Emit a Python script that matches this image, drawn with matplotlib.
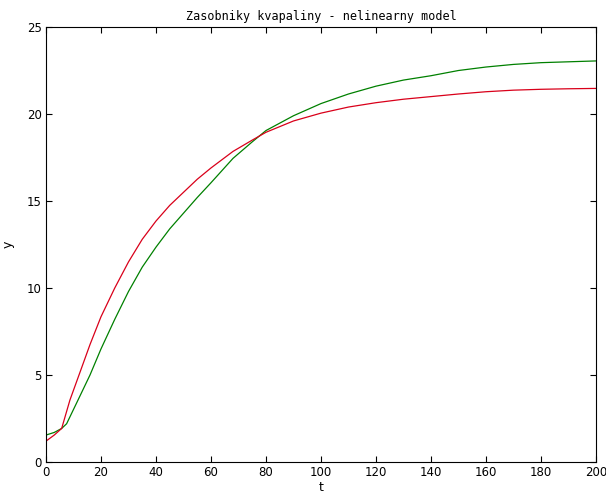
import numpy as np
import matplotlib.pyplot as plt

# data
t_red = [0, 3, 5.7, 8.7, 12, 16, 20, 25, 30, 35, 40, 45, 50, 55, 60, 68, 75, 80,
         90, 100, 110, 120, 130, 140, 150, 160, 170, 180, 190, 200]
y_red = [1.2, 1.55, 1.93, 3.56, 5.0, 6.75, 8.35, 10.0, 11.5, 12.8, 13.85, 14.75, 15.5, 16.25, 16.9, 17.85, 18.5, 18.95,
         19.6, 20.05, 20.4, 20.65, 20.85, 21.0, 21.15, 21.28, 21.37, 21.42, 21.45, 21.47]

t_green = [0, 3, 5.7, 7.5, 11, 16, 20, 25, 30, 35, 40, 45, 50, 55, 60, 68, 75, 80,
           90, 100, 110, 120, 130, 140, 150, 160, 170, 180, 190, 200]
y_green = [1.55, 1.7, 1.93, 2.2, 3.35, 5.0, 6.5, 8.2, 9.8, 11.2, 12.35, 13.4, 14.3, 15.2, 16.05, 17.45, 18.4, 19.05,
           19.9, 20.6, 21.15, 21.6, 21.95, 22.2, 22.5, 22.7, 22.85, 22.95, 23.0, 23.05]

fig = plt.figure(figsize=(6.06, 4.99), dpi=100)
ax = fig.add_axes([0.0759, 0.0741, 0.9835 - 0.0759, 0.9459 - 0.0741])

ax.plot(t_green, y_green, color=(0.0, 0.5, 0.0), lw=0.9)
ax.plot(t_red, y_red, color=(0.85, 0.0, 0.1), lw=0.9)

ax.set_xlim(0, 200)
ax.set_ylim(0, 25)
ax.set_xticks(np.arange(0, 201, 20))
ax.set_yticks(np.arange(0, 26, 5))
ax.tick_params(direction='in', top=True, right=True, length=4, width=0.8, labelsize=8.5, pad=3)
for s in ax.spines.values():
    s.set_linewidth(0.8)

ax.set_xlabel('t', fontsize=9, labelpad=1)
ax.set_ylabel('y', fontsize=9, labelpad=9)
ax.set_title('Zasobniky kvapaliny - nelinearny model', fontsize=8.5, family='DejaVu Sans Mono', pad=5)

plt.savefig('out.png', dpi=100)
